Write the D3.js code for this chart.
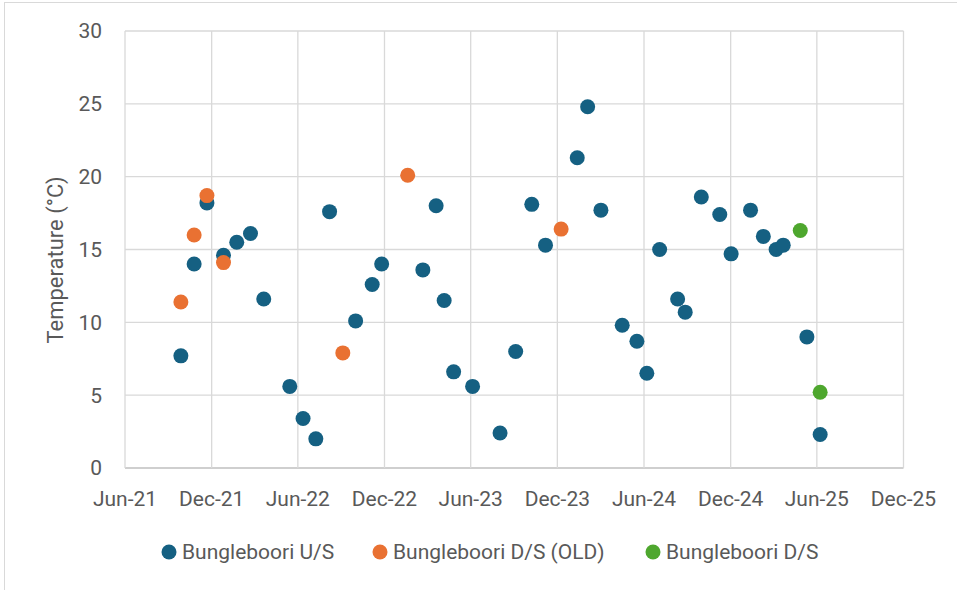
<!DOCTYPE html>
<html>
<head>
<meta charset="utf-8">
<script src="https://cdn.jsdelivr.net/npm/d3@7"></script>
<style>
  html, body { margin: 0; padding: 0; background: #fff; }
  svg { display: block; }
  text { font-family: Roboto, "Open Sans", sans-serif; fill: #595959; }
</style>
</head>
<body>
<svg id="chart" width="957" height="590"></svg>
<script>
// ---- Data ----
const usDates = ["2021-09-27","2021-10-25","2021-11-21","2021-12-26","2022-01-23","2022-02-21","2022-03-21","2022-05-15","2022-06-12","2022-07-09","2022-08-07","2022-10-01","2022-11-05","2022-11-25","2023-02-20","2023-03-20","2023-04-06","2023-04-26","2023-06-05","2023-08-02","2023-09-04","2023-10-08","2023-11-06","2024-01-12","2024-02-03","2024-03-02","2024-04-16","2024-05-17","2024-06-07","2024-07-04","2024-08-11","2024-08-27","2024-09-30","2024-11-08","2024-12-02","2025-01-12","2025-02-08","2025-03-07","2025-03-22","2025-05-11","2025-06-08"];
const usTemps = [7.7,14.0,18.2,14.6,15.5,16.1,11.6,5.6,3.4,2.0,17.6,10.1,12.6,14.0,13.6,18.0,11.5,6.6,5.6,2.4,8.0,18.1,15.3,21.3,24.8,17.7,9.8,8.7,6.5,15.0,11.6,10.7,18.6,17.4,14.7,17.7,15.9,15.0,15.3,9.0,2.3];
const oldDates = ["2021-09-27","2021-10-25","2021-11-21","2021-12-26","2022-09-04","2023-01-19","2023-12-09"];
const oldTemps = [11.4,16.0,18.7,14.1,7.9,20.1,16.4];
const dsDates = ["2025-04-27","2025-06-08"];
const dsTemps = [16.3,5.2];
const seriesNames = ["Bungleboori U/S","Bungleboori D/S (OLD)","Bungleboori D/S"];
const seriesColors = ["#156082","#E97132","#4EA72E"];
const xTickDates = ["2021-06-01","2021-12-01","2022-06-01","2022-12-01","2023-06-01","2023-12-01","2024-06-01","2024-12-01","2025-06-01","2025-12-01"];
const yTicks = [0,5,10,15,20,25,30];
const yTitle = "Temperature (°C)";

// ---- Build ----
const parse = d3.timeParse("%Y-%m-%d");
const fmt = d3.timeFormat("%b-%y");
const series = [
  {name: seriesNames[0], color: seriesColors[0], pts: usDates.map((d,i)=>({d:parse(d), v:usTemps[i]}))},
  {name: seriesNames[1], color: seriesColors[1], pts: oldDates.map((d,i)=>({d:parse(d), v:oldTemps[i]}))},
  {name: seriesNames[2], color: seriesColors[2], pts: dsDates.map((d,i)=>({d:parse(d), v:dsTemps[i]}))}
];

const svg = d3.select("#chart");
const L = 125, R = 903.5, T = 31, B = 468;
const x = d3.scaleTime().domain([parse(xTickDates[0]), parse(xTickDates[xTickDates.length-1])]).range([L, R]);
const y = d3.scaleLinear().domain([0, 30]).range([B, T]);

// outer frame
svg.append("rect").attr("x",4.5).attr("y",2.5).attr("width",1000).attr("height",700)
  .attr("fill","#fff").attr("stroke","#d9d9d9").attr("stroke-width",1);

// gridlines
const g = svg.append("g");
g.selectAll(".hg").data(yTicks).join("line")
  .attr("x1",L).attr("x2",R).attr("y1",d=>y(d)).attr("y2",d=>y(d))
  .attr("stroke", d => d===0 ? "#bfbfbf" : "#d9d9d9").attr("stroke-width",1.3);
g.selectAll(".vg").data(xTickDates).join("line")
  .attr("x1",d=>x(parse(d))).attr("x2",d=>x(parse(d))).attr("y1",T).attr("y2",B)
  .attr("stroke","#d9d9d9").attr("stroke-width",1.3);

// y tick labels
svg.append("g").selectAll("text").data(yTicks).join("text")
  .attr("x",102).attr("y",d=>y(d)).attr("dy","0.35em").attr("text-anchor","end")
  .style("font-size","21px").text(d=>d);

// x tick labels
svg.append("g").selectAll("text").data(xTickDates).join("text")
  .attr("x",d=>x(parse(d))).attr("y",499).attr("dy","0.35em").attr("text-anchor","middle")
  .style("font-size","21px").text(d=>fmt(parse(d)));

// y title
svg.append("text").attr("transform","translate(55,260) rotate(-90)")
  .attr("text-anchor","middle").attr("dy","0.35em").style("font-size","22px").text(yTitle);

// points
series.forEach(s => {
  svg.append("g").selectAll("circle").data(s.pts).join("circle")
    .attr("cx",d=>x(d.d)).attr("cy",d=>y(d.v)).attr("r",7.5).attr("fill",s.color);
});

// legend
const legX = [169, 380, 653];
const leg = svg.append("g");
series.forEach((s,i) => {
  leg.append("circle").attr("cx",legX[i]).attr("cy",552).attr("r",7.5).attr("fill",s.color);
  leg.append("text").attr("x",legX[i]+13).attr("y",552).attr("dy","0.35em")
    .style("font-size","21px").text(s.name);
});
</script>
</body>
</html>
